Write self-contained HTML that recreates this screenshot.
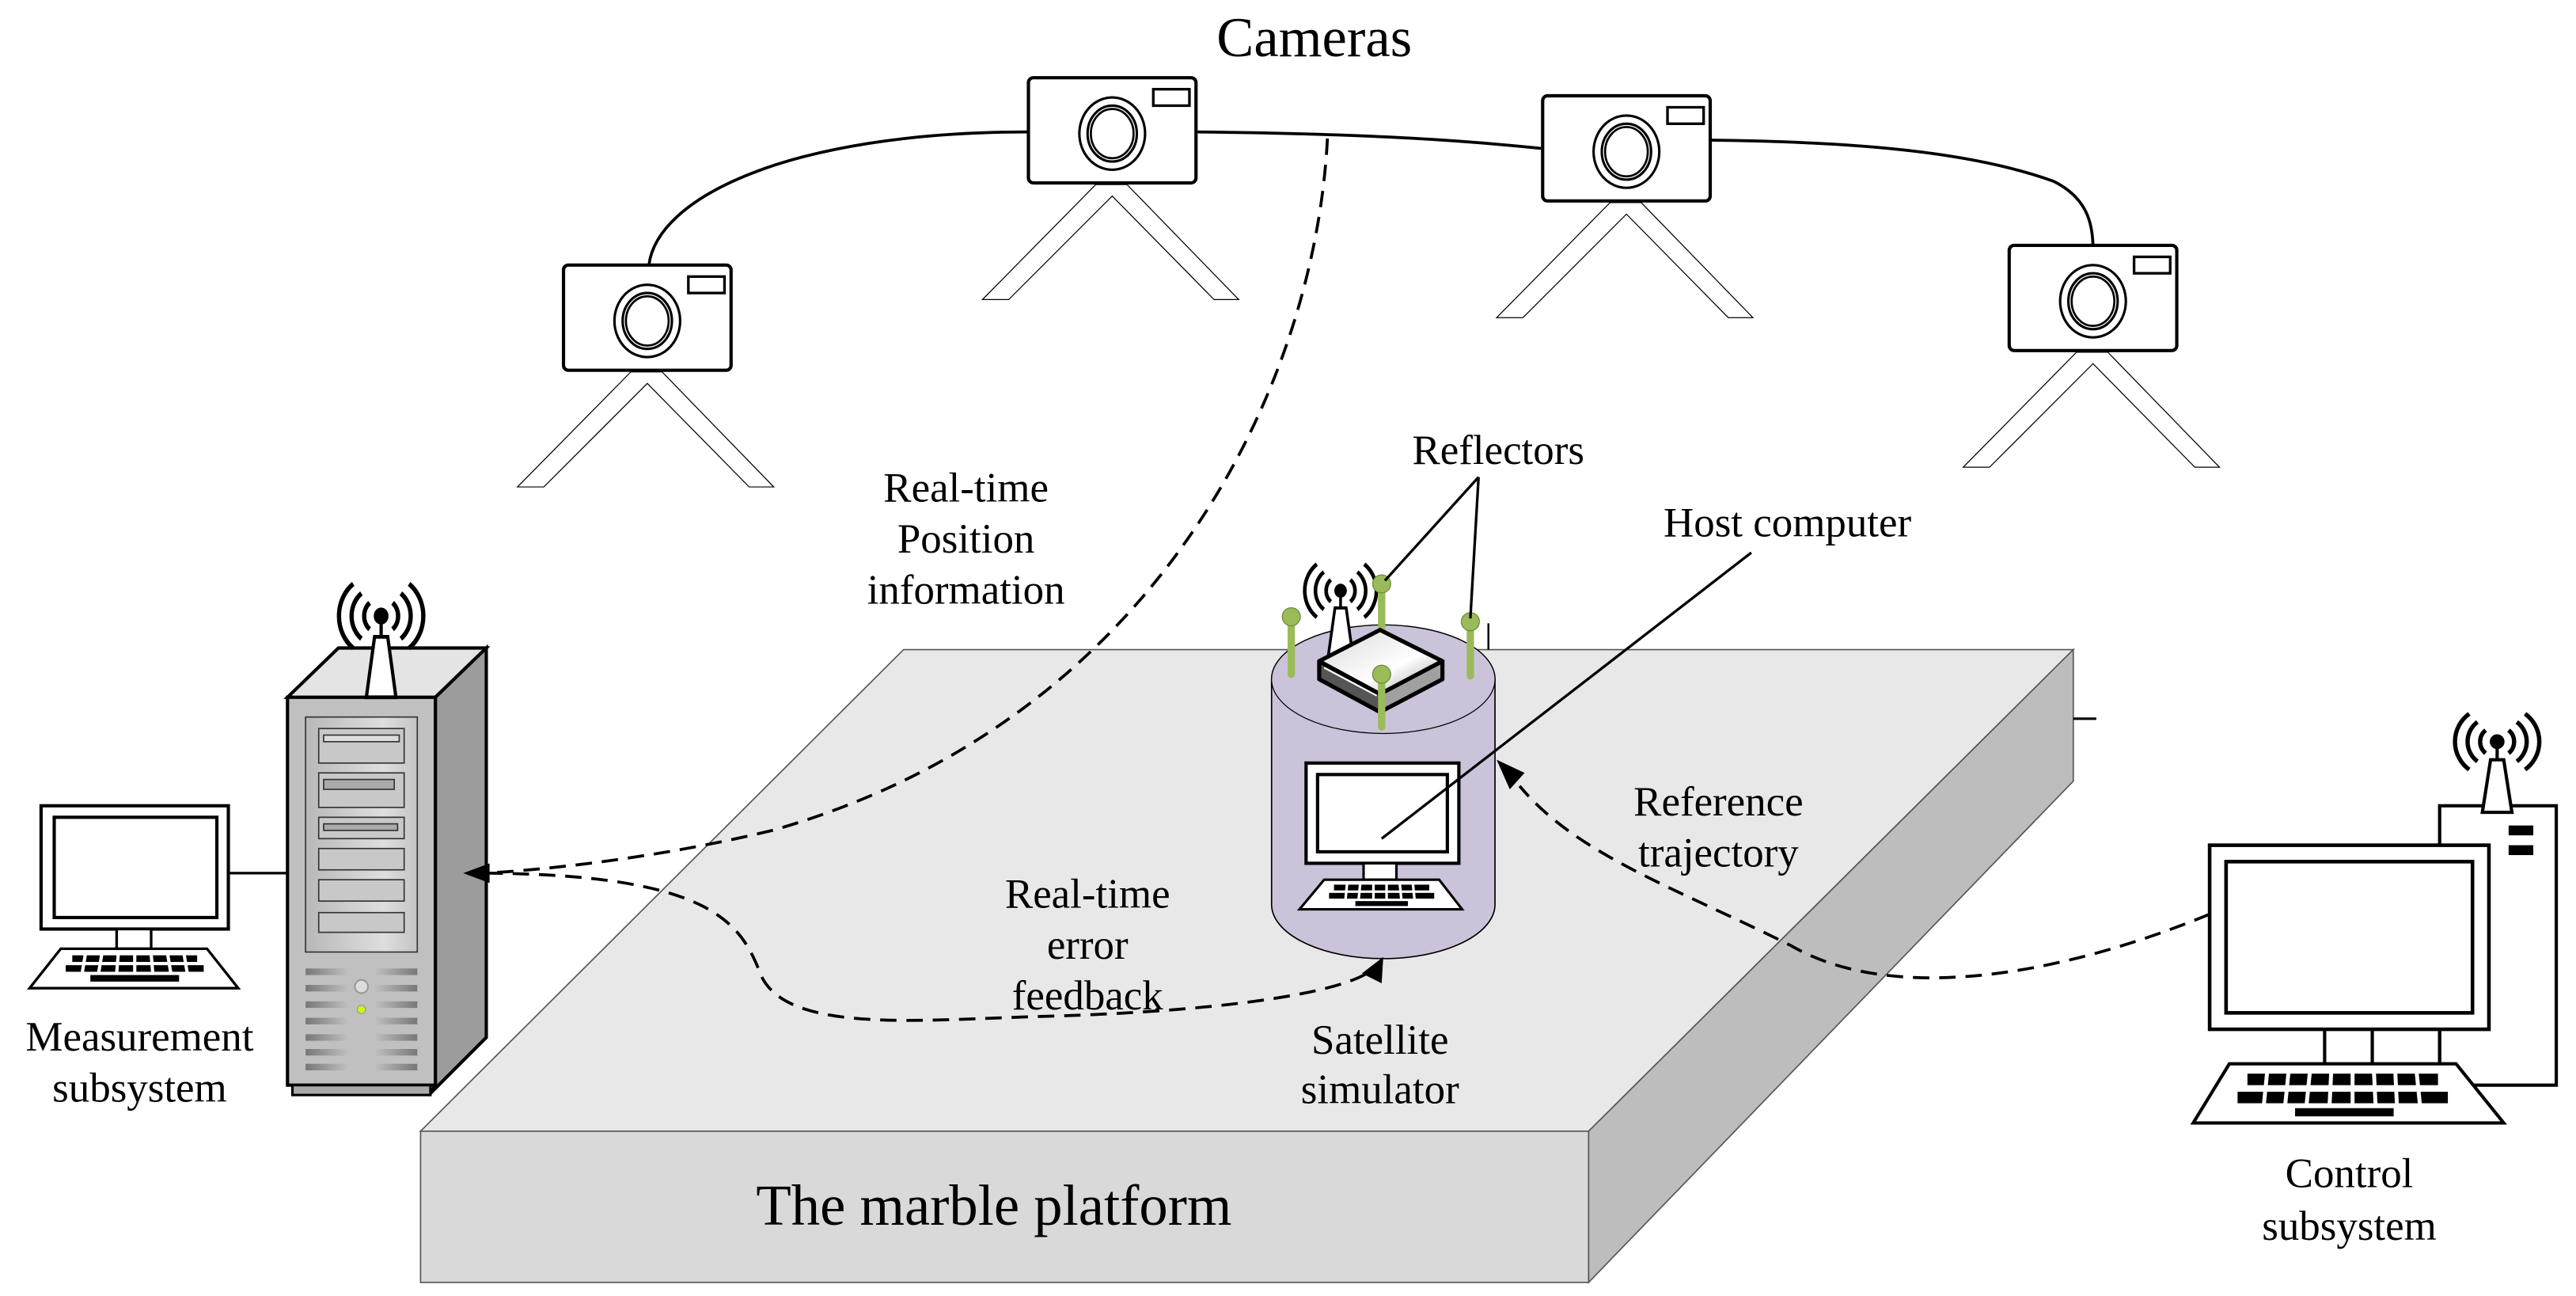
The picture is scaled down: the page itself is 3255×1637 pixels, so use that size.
<!DOCTYPE html>
<html><head><meta charset="utf-8"><style>
html,body{margin:0;padding:0;background:#fff;}
svg{display:block;}
text{font-family:"Liberation Serif",serif;fill:#000;text-anchor:middle;}
</style></head><body>
<svg width="3255" height="1637" viewBox="0 0 1568 788" xmlns="http://www.w3.org/2000/svg">
<defs>
<linearGradient id="srvF" x1="0" x2="1"><stop offset="0" stop-color="#b8b8b8"/><stop offset="0.7" stop-color="#dedede"/><stop offset="1" stop-color="#c4c4c4"/></linearGradient>
<linearGradient id="vent" x1="0" x2="1"><stop offset="0" stop-color="#777"/><stop offset="1" stop-color="#c0c0c0"/></linearGradient>
<linearGradient id="vent2" x1="0" x2="1"><stop offset="0" stop-color="#c0c0c0"/><stop offset="1" stop-color="#777"/></linearGradient>
<linearGradient id="rt" x1="0" y1="0" x2="1" y2="1"><stop offset="0" stop-color="#d8d8d8"/><stop offset="0.6" stop-color="#fff"/><stop offset="1" stop-color="#999"/></linearGradient>
<g id="cam">
  <polygon points="-10,1 -79,71 -63,71 0,8 62,71 77,71 9,1" fill="#fff" stroke="#000" stroke-width="0.6"/>
  <rect x="-51" y="-64" width="102" height="64" rx="3" fill="#fff" stroke="#000" stroke-width="2"/>
  <rect x="25" y="-57" width="22" height="10" fill="#fff" stroke="#000" stroke-width="1.6"/>
  <ellipse cx="0" cy="-30" rx="20" ry="22" fill="#fff" stroke="#000" stroke-width="1.5"/>
  <ellipse cx="0" cy="-30" rx="15" ry="17" fill="#fff" stroke="#000" stroke-width="1.5"/>
  <ellipse cx="0" cy="-30" rx="13" ry="15" fill="#fff" stroke="#000" stroke-width="1.3"/>
</g>
<g id="ant">
  <polygon points="-9,0 9,0 4,-32 -4,-32" fill="#fff" stroke="#000" stroke-width="2"/>
  <line x1="0" y1="-32" x2="0" y2="-42" stroke="#000" stroke-width="2"/>
  <circle cx="0" cy="-43" r="4.5" fill="#000"/>
  <g fill="none" stroke="#000" stroke-width="2.6">
    <path d="M-7,-50 A9,9 0 0 0 -7,-36"/><path d="M7,-50 A9,9 0 0 1 7,-36"/>
    <path d="M-12,-55 A15,15 0 0 0 -12,-31"/><path d="M12,-55 A15,15 0 0 1 12,-31"/>
    <path d="M-17,-60 A21,21 0 0 0 -17,-26"/><path d="M17,-60 A21,21 0 0 1 17,-26"/>
  </g>
</g>
</defs>

<text x="800" y="34" font-size="34">Cameras</text>
<g fill="none" stroke="#000" stroke-width="1.8">
<path d="M395,161 C400,120 480,80 626,80"/>
<path d="M729,80 C820,81 880,84 938,90"/>
<path d="M1041,85 C1130,86 1200,92 1250,110 C1270,120 1274,135 1274,151"/>
</g>
<use href="#cam" x="394" y="225"/>
<use href="#cam" x="677" y="111"/>
<use href="#cam" x="990" y="122"/>
<use href="#cam" x="1274" y="213"/>

<polygon points="550,395 1262,395 967,688 256,688" fill="#e8e8e8" stroke="#555" stroke-width="0.8"/>
<rect x="256" y="688" width="711" height="92" fill="#d9d9d9" stroke="#555" stroke-width="0.8"/>
<polygon points="967,688 1262,395 1262,475 967,780" fill="#bdbdbd" stroke="#555" stroke-width="0.8"/>
<line x1="1262" y1="437" x2="1276" y2="437" stroke="#000" stroke-width="1.5"/>
<line x1="906" y1="379" x2="906" y2="395" stroke="#000" stroke-width="1.2"/>
<text x="605" y="745" font-size="35">The marble platform</text>

<rect x="25" y="490" width="114" height="75" fill="#fff" stroke="#000" stroke-width="2"/>
<rect x="33" y="497" width="99" height="61" fill="#fff" stroke="#000" stroke-width="2"/>
<rect x="71" y="565" width="21" height="12" fill="#fff" stroke="#000" stroke-width="1.6"/>
<polygon points="37,577 126,577 145,601 18,601" fill="#fff" stroke="#000" stroke-width="1.6"/>
<g fill="#000"><rect x="44" y="581" width="76" height="4"/><rect x="40" y="587" width="84" height="4"/><rect x="55" y="593" width="54" height="4"/></g>
<g stroke="#fff" stroke-width="2"><line x1="52" y1="580" x2="50" y2="592"/><line x1="62" y1="580" x2="60" y2="592"/><line x1="72" y1="580" x2="71" y2="592"/><line x1="82" y1="580" x2="82" y2="592"/><line x1="92" y1="580" x2="93" y2="592"/><line x1="102" y1="580" x2="104" y2="592"/><line x1="112" y1="580" x2="114" y2="592"/></g>
<line x1="139" y1="531" x2="175" y2="531" stroke="#000" stroke-width="1.6"/>
<text x="85" y="639" font-size="25.5">Measurement</text>
<text x="85" y="670" font-size="25.5">subsystem</text>

<polygon points="175,424 206,394 296,394 265,424" fill="#e4e4e4" stroke="#000" stroke-width="2"/>
<polygon points="265,424 296,394 296,631 261,666 265,660" fill="#9c9c9c" stroke="#000" stroke-width="2"/>
<rect x="175" y="424" width="90" height="236" fill="#c0c0c0" stroke="#000" stroke-width="2"/>
<rect x="178" y="660" width="84" height="6" fill="#aaa" stroke="#000" stroke-width="1.5"/>
<rect x="186" y="436" width="68" height="143" fill="url(#srvF)" stroke="#333" stroke-width="0.8"/>
<g fill="#c8c8c8" stroke="#333" stroke-width="0.8">
<rect x="194" y="443" width="52" height="21"/><rect x="194" y="470" width="52" height="21"/><rect x="194" y="497" width="52" height="13"/>
<rect x="194" y="516" width="52" height="13"/><rect x="194" y="535" width="52" height="13"/><rect x="194" y="555" width="52" height="12"/>
<rect x="197" y="447" width="46" height="4" fill="#ddd"/><rect x="197" y="474" width="43" height="6" fill="#aaa"/><rect x="197" y="501" width="45" height="4" fill="#aaa"/>
</g>
<g>
<rect x="186" y="589" width="26" height="4" fill="url(#vent)"/><rect x="228" y="589" width="26" height="4" fill="url(#vent2)"/>
<rect x="186" y="599" width="26" height="4" fill="url(#vent)"/><rect x="228" y="599" width="26" height="4" fill="url(#vent2)"/>
<rect x="186" y="609" width="26" height="4" fill="url(#vent)"/><rect x="228" y="609" width="26" height="4" fill="url(#vent2)"/>
<rect x="186" y="619" width="26" height="4" fill="url(#vent)"/><rect x="228" y="619" width="26" height="4" fill="url(#vent2)"/>
<rect x="186" y="629" width="26" height="4" fill="url(#vent)"/><rect x="228" y="629" width="26" height="4" fill="url(#vent2)"/>
<rect x="186" y="638" width="26" height="4" fill="url(#vent)"/><rect x="228" y="638" width="26" height="4" fill="url(#vent2)"/>
<rect x="186" y="647" width="26" height="4" fill="url(#vent)"/><rect x="228" y="647" width="26" height="4" fill="url(#vent2)"/>
</g>
<circle cx="220" cy="600" r="4" fill="#ddd" stroke="#999"/>
<circle cx="220" cy="614" r="2.5" fill="#cf0" stroke="#999" stroke-width="0.6"/>
<g transform="translate(232,424) scale(1,1.15)"><use href="#ant"/></g>

<path d="M774,413 L774,550 A68,33 0 0 0 910,550 L910,413 A68,33 0 0 0 774,413 Z" fill="#cbc3da" stroke="#000" stroke-width="0.8"/>
<ellipse cx="842" cy="413" rx="68" ry="33" fill="#cbc3da" stroke="#000" stroke-width="0.6"/>
<rect x="795" y="464" width="93" height="61" fill="#fff" stroke="#000" stroke-width="2"/>
<rect x="802" y="471" width="79" height="47" fill="#fff" stroke="#000" stroke-width="2"/>
<rect x="830" y="525" width="20" height="10" fill="#fff" stroke="#000" stroke-width="1.5"/>
<polygon points="806,535 876,535 890,553 791,553" fill="#fff" stroke="#000" stroke-width="1.5"/>
<g fill="#000"><rect x="812" y="538" width="58" height="3.5"/><rect x="809" y="543" width="64" height="3.5"/><rect x="825" y="548" width="32" height="3"/></g>
<g stroke="#fff" stroke-width="1.6"><line x1="820" y1="537" x2="819" y2="547"/><line x1="828" y1="537" x2="827" y2="547"/><line x1="836" y1="537" x2="836" y2="547"/><line x1="844" y1="537" x2="844" y2="547"/><line x1="852" y1="537" x2="853" y2="547"/><line x1="860" y1="537" x2="861" y2="547"/></g>
<g transform="translate(816,400) scale(0.85,0.95)"><use href="#ant"/></g>
<g stroke="#9bbb59" stroke-width="4.5" stroke-linecap="round">
<line x1="786" y1="377" x2="786" y2="410"/>
<line x1="841" y1="357" x2="841" y2="383"/>
<line x1="895" y1="378" x2="895" y2="411"/>
</g>
<g fill="#9bbb59" stroke="#6a8a3a" stroke-width="0.6"><circle cx="786" cy="375" r="5.5"/><circle cx="841" cy="355" r="5.5"/><circle cx="895" cy="378" r="5.5"/></g>
<polygon points="803,402 840,422 840,433 803,413" fill="#555" stroke="#000" stroke-width="2.5" stroke-linejoin="round"/>
<polygon points="840,422 878,402 878,413 840,433" fill="#a0a0a0" stroke="#000" stroke-width="2.5" stroke-linejoin="round"/>
<polygon points="840,383 878,402 840,422 803,402" fill="url(#rt)" stroke="#000" stroke-width="2.5" stroke-linejoin="round"/>
<line x1="806" y1="406" x2="838" y2="423" stroke="#fff" stroke-width="1"/>
<line x1="841" y1="412" x2="841" y2="442" stroke="#9bbb59" stroke-width="4.5" stroke-linecap="round"/>
<circle cx="841" cy="410" r="5.5" fill="#9bbb59" stroke="#6a8a3a" stroke-width="0.6"/>

<g stroke="#000" stroke-width="1.6" fill="none">
<line x1="900" y1="290" x2="843" y2="353"/>
<line x1="900" y1="290" x2="895" y2="376"/>
<line x1="1066" y1="336" x2="841" y2="510"/>
</g>
<text x="912" y="282" font-size="25.5">Reflectors</text>
<text x="1088" y="326" font-size="25.5">Host computer</text>

<rect x="1485" y="490" width="71" height="170" fill="#fff" stroke="#000" stroke-width="2"/>
<rect x="1527" y="502" width="15" height="6" fill="#000"/><rect x="1527" y="514" width="15" height="6" fill="#000"/>
<use href="#ant" x="1520" y="494"/>
<rect x="1345" y="514" width="170" height="112" fill="#fff" stroke="#000" stroke-width="2.2"/>
<rect x="1355" y="524" width="150" height="92" fill="#fff" stroke="#000" stroke-width="2.2"/>
<line x1="1415" y1="626" x2="1415" y2="647" stroke="#000" stroke-width="2"/>
<line x1="1444" y1="626" x2="1444" y2="647" stroke="#000" stroke-width="2"/>
<line x1="1485" y1="626" x2="1485" y2="647" stroke="#000" stroke-width="2"/>
<polygon points="1357,647 1495,647 1524,683 1335,683" fill="#fff" stroke="#000" stroke-width="2"/>
<g fill="#000"><rect x="1368" y="653" width="116" height="7"/><rect x="1362" y="664" width="128" height="7"/><rect x="1397" y="674" width="60" height="5"/></g>
<g stroke="#fff" stroke-width="2.4"><line x1="1380" y1="652" x2="1378" y2="672"/><line x1="1393" y1="652" x2="1391" y2="672"/><line x1="1406" y1="652" x2="1404" y2="672"/><line x1="1419" y1="652" x2="1418" y2="672"/><line x1="1432" y1="652" x2="1432" y2="672"/><line x1="1445" y1="652" x2="1446" y2="672"/><line x1="1458" y1="652" x2="1459" y2="672"/><line x1="1471" y1="652" x2="1473" y2="672"/></g>
<text x="1430" y="722" font-size="25.5">Control</text>
<text x="1430" y="754" font-size="25.5">subsystem</text>

<g fill="none" stroke="#000" stroke-width="1.8" stroke-dasharray="10,6">
<path d="M808,84 C800,240 700,440 470,505 C400,522 330,529 296,531"/>
<path d="M296,531 C430,532 450,560 462,590 C475,630 560,620 640,618 C740,615 810,605 832,592"/>
<path d="M1345,556 C1250,595 1150,610 1090,575 C1020,540 960,520 925,478"/>
</g>
<polygon points="282,531 298,525 298,537" fill="#000"/>
<polygon points="842,582 841,598 829,592" fill="#000"/>
<polygon points="911,462 928,470 919,480" fill="#000"/>

<text x="588" y="305" font-size="25.5">Real-time</text>
<text x="588" y="336" font-size="25.5">Position</text>
<text x="588" y="367" font-size="25.5">information</text>
<text x="662" y="552" font-size="25.5">Real-time</text>
<text x="662" y="583" font-size="25.5">error</text>
<text x="662" y="614" font-size="25.5">feedback</text>
<text x="840" y="641" font-size="25.5">Satellite</text>
<text x="840" y="671" font-size="25.5">simulator</text>
<text x="1046" y="496" font-size="25.5">Reference</text>
<text x="1046" y="527" font-size="25.5">trajectory</text>
</svg>
</body></html>
